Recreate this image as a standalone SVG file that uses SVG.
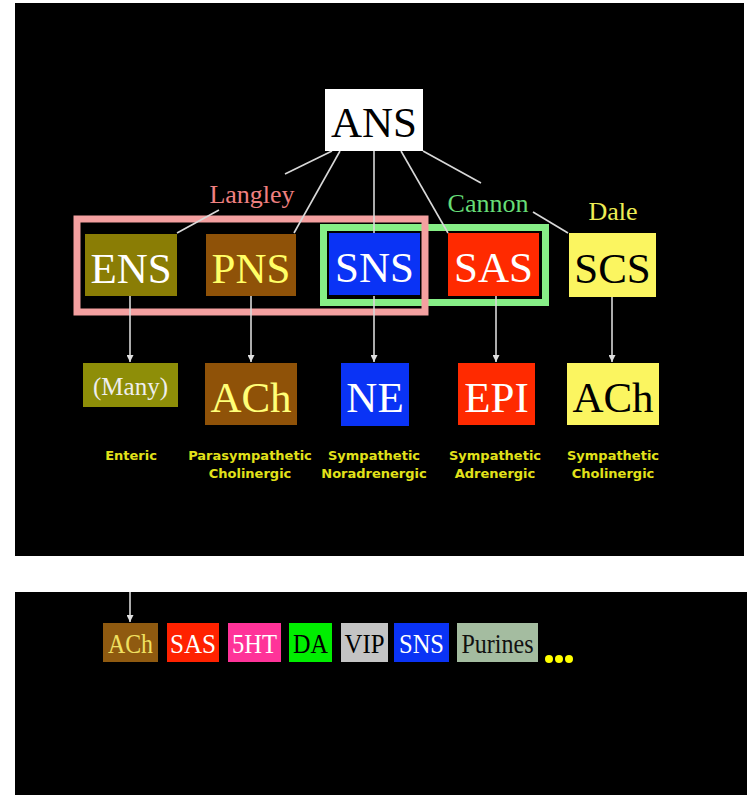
<svg xmlns="http://www.w3.org/2000/svg" width="750" height="795" viewBox="0 0 750 795">
<defs>
<marker id="ah" viewBox="0 0 10 10" refX="10" refY="5" markerWidth="7" markerHeight="7" markerUnits="userSpaceOnUse" orient="auto">
<path d="M0,0 L10,5 L0,10 z" fill="#e0e0e0"/>
</marker>
<style>
.panel{fill:#000}
.ln{stroke:#d8d8d8;stroke-width:1.6;fill:none}
.big{font-family:"Liberation Serif","Times New Roman",serif;font-size:43px;text-anchor:middle}
.lab{font-family:"Liberation Serif","Times New Roman",serif;font-size:26px;text-anchor:middle}
.sm{font-family:"Liberation Serif","Times New Roman",serif;font-size:28px;text-anchor:middle}
.cap{font-family:"DejaVu Sans","Noto Sans",sans-serif;font-size:13px;font-weight:bold;text-anchor:middle;fill:#e2e21a}
</style>
</defs>
<rect x="0" y="0" width="750" height="795" fill="#fff"/>
<rect class="panel" x="15" y="3" width="729" height="553"/>
<rect class="panel" x="15" y="592" width="732" height="203"/>

<g id="frames">
<rect x="323.5" y="227.5" width="222" height="75" fill="none" stroke="#86ee86" stroke-width="7"/>
<rect x="77" y="219" width="348" height="93" fill="none" stroke="#f4a0a0" stroke-width="7"/>
</g>

<g id="connectors">
<line class="ln" x1="332" y1="151" x2="285" y2="174"/>
<line class="ln" x1="219" y1="210" x2="177" y2="233"/>
<line class="ln" x1="340" y1="151" x2="294" y2="233"/>
<line class="ln" x1="374" y1="151" x2="374" y2="233"/>
<line class="ln" x1="401" y1="151" x2="448" y2="233"/>
<line class="ln" x1="423" y1="151" x2="481" y2="183"/>
<line class="ln" x1="533" y1="212" x2="568" y2="233"/>
<line class="ln" x1="130" y1="296" x2="130" y2="362" marker-end="url(#ah)"/>
<line class="ln" x1="251" y1="296" x2="251" y2="362" marker-end="url(#ah)"/>
<line class="ln" x1="374" y1="296" x2="374" y2="362" marker-end="url(#ah)"/>
<line class="ln" x1="496" y1="296" x2="496" y2="362" marker-end="url(#ah)"/>
<line class="ln" x1="612" y1="296" x2="612" y2="362" marker-end="url(#ah)"/>
<line class="ln" x1="130" y1="592" x2="130" y2="622" marker-end="url(#ah)"/>
</g>

<g id="ANS"><rect x="325" y="89" width="98" height="62" fill="#fff"/><text class="big" x="374" y="137" fill="#000">ANS</text></g>

<g id="labels">
<text class="lab" x="252" y="203" fill="#f08080">Langley</text>
<text class="lab" x="488" y="212" fill="#66dd77">Cannon</text>
<text class="lab" x="613" y="220" fill="#eeee55">Dale</text>
</g>

<g id="ENS"><rect x="85" y="234" width="92" height="62" fill="#8a7d05"/><text class="big" x="131" y="283" fill="#fff">ENS</text></g>
<g id="PNS"><rect x="206" y="234" width="90" height="62" fill="#8f5208"/><text class="big" x="251" y="283" fill="#ffff66">PNS</text></g>
<g id="SNS"><rect x="329" y="233" width="91" height="62" fill="#0a33f5"/><text class="big" x="374.5" y="282" fill="#fff">SNS</text></g>
<g id="SAS"><rect x="448" y="233" width="91" height="63" fill="#ff2a00"/><text class="big" x="493.5" y="282" fill="#fff">SAS</text></g>
<g id="SCS"><rect x="569" y="233" width="87" height="64" fill="#fbf560"/><text class="big" x="612.5" y="283" fill="#000">SCS</text></g>

<g id="Many"><rect x="83" y="363" width="95" height="44" fill="#8e8e08"/><text x="130.5" y="395" font-family="Liberation Serif, serif" font-size="25" text-anchor="middle" fill="#eee">(Many)</text></g>
<g id="ACh1"><rect x="205" y="363" width="92" height="62" fill="#8f5208"/><text class="big" x="251" y="412" fill="#ffff77">ACh</text></g>
<g id="NE"><rect x="341" y="363" width="68" height="63" fill="#0a33f5"/><text class="big" x="375" y="412" fill="#fff">NE</text></g>
<g id="EPI"><rect x="458" y="363" width="77" height="62" fill="#ff2a00"/><text class="big" x="496.5" y="412" fill="#fff">EPI</text></g>
<g id="ACh2"><rect x="567" y="363" width="92" height="62" fill="#fbf560"/><text class="big" x="613" y="412" fill="#000">ACh</text></g>

<g id="captions">
<text class="cap" x="131" y="460">Enteric</text>
<text class="cap" x="250" y="460">Parasympathetic</text>
<text class="cap" x="250" y="478">Cholinergic</text>
<text class="cap" x="374" y="460">Sympathetic</text>
<text class="cap" x="374" y="478">Noradrenergic</text>
<text class="cap" x="495" y="460">Sympathetic</text>
<text class="cap" x="495" y="478">Adrenergic</text>
<text class="cap" x="613" y="460">Sympathetic</text>
<text class="cap" x="613" y="478">Cholinergic</text>
</g>

<g id="b-ACh"><rect x="103" y="623" width="55" height="39" fill="#8f5a10"/><text class="sm" x="130.5" y="653" fill="#f0e060" textLength="45" lengthAdjust="spacingAndGlyphs">ACh</text></g>
<g id="b-SAS"><rect x="167" y="623" width="52" height="39" fill="#ff2200"/><text class="sm" x="193" y="653" fill="#fff" textLength="46" lengthAdjust="spacingAndGlyphs">SAS</text></g>
<g id="b-5HT"><rect x="228" y="623" width="53" height="39" fill="#ff3399"/><text class="sm" x="254.5" y="653" fill="#fff" textLength="45" lengthAdjust="spacingAndGlyphs">5HT</text></g>
<g id="b-DA"><rect x="289" y="623" width="43" height="39" fill="#00ee00"/><text class="sm" x="310.5" y="653" fill="#000" textLength="35" lengthAdjust="spacingAndGlyphs">DA</text></g>
<g id="b-VIP"><rect x="341" y="623" width="47" height="39" fill="#c4c4c4"/><text class="sm" x="364.5" y="653" fill="#000" textLength="40" lengthAdjust="spacingAndGlyphs">VIP</text></g>
<g id="b-SNS"><rect x="394" y="623" width="55" height="39" fill="#0a33f5"/><text class="sm" x="421.5" y="653" fill="#fff" textLength="45" lengthAdjust="spacingAndGlyphs">SNS</text></g>
<g id="b-Purines"><rect x="457" y="623" width="81" height="39" fill="#a4bca0"/><text class="sm" x="497.5" y="653" fill="#111" textLength="72" lengthAdjust="spacingAndGlyphs">Purines</text></g>
<g id="dots" fill="#ffff00">
<circle cx="549" cy="659" r="4"/><circle cx="559" cy="659" r="4"/><circle cx="569" cy="659" r="4"/>
</g>
</svg>
